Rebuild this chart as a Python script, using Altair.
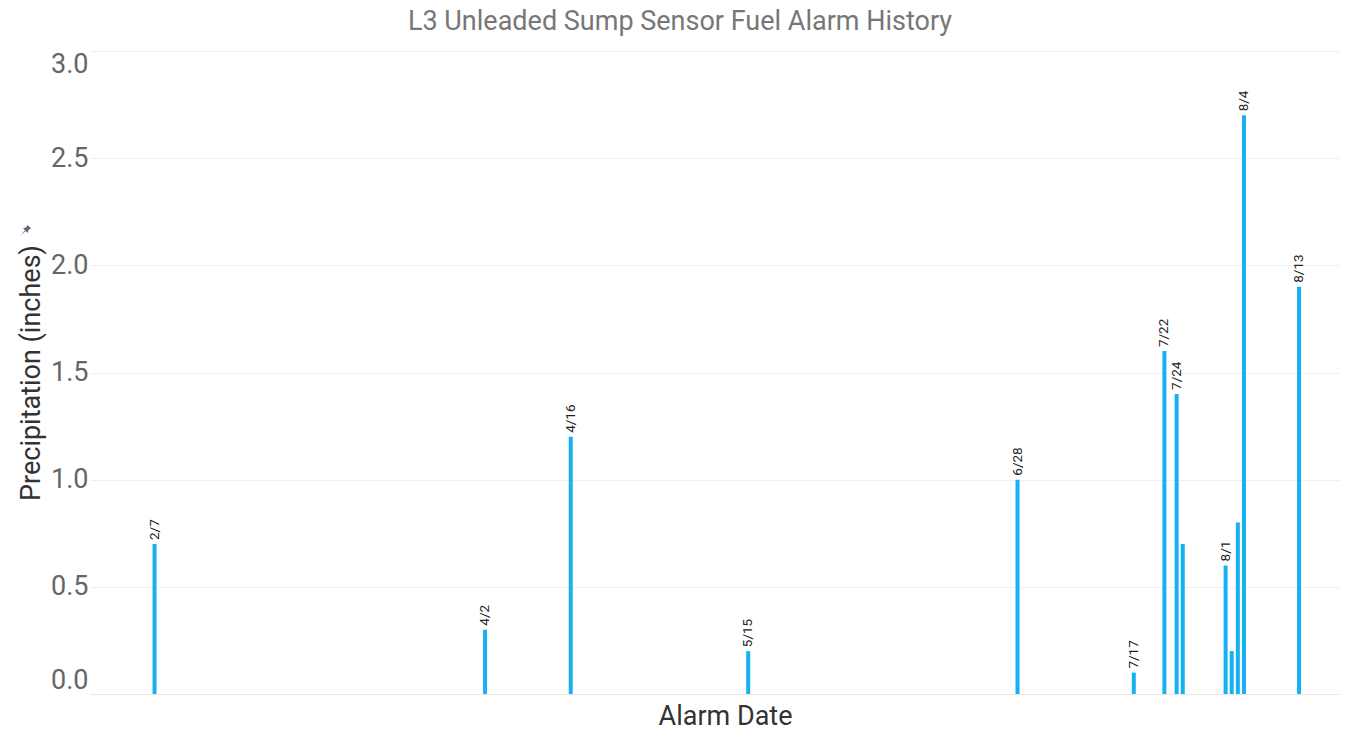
import altair as alt
import pandas as pd

dates = ["2019-02-07", "2019-04-02", "2019-04-16", "2019-05-15", "2019-06-28",
         "2019-07-17", "2019-07-22", "2019-07-24", "2019-07-25", "2019-08-01",
         "2019-08-02", "2019-08-03", "2019-08-04", "2019-08-13"]
values = [0.7, 0.3, 1.2, 0.2, 1.0, 0.1, 1.6, 1.4, 0.7, 0.6, 0.2, 0.8, 2.7, 1.9]
labels = ["2/7", "4/2", "4/16", "5/15", "6/28", "7/17", "7/22", "7/24", "",
          "8/1", "", "", "8/4", "8/13"]

df = pd.DataFrame({"date": dates, "value": values, "label": labels})

FONT = "Roboto"

x = alt.X("date:T", title="Alarm Date",
          scale=alt.Scale(domain=["2019-01-28T06:30:00", "2019-08-18T21:00:00"]),
          axis=alt.Axis(labels=False, ticks=False, grid=False, domain=True,
                        domainColor="#e6e6e6", domainWidth=1,
                        titleFont=FONT, titleFontSize=27, titleFontWeight="normal",
                        titleColor="#333333", titlePadding=9, titleX=635,
                        titleAlign="center"))
y = alt.Y("value:Q", title="Precipitation (inches)",
          scale=alt.Scale(domain=[0, 3]),
          axis=alt.Axis(values=[0, 0.5, 1, 1.5, 2, 2.5, 3], format=".1f",
                        labelFlush=True, domain=False, ticks=False,
                        gridColor="#f0f0f0", labelFont=FONT, labelFontSize=27,
                        labelColor="#666666", labelPadding=2,
                        titleFont=FONT, titleFontSize=27, titleFontWeight="normal",
                        titleColor="#333333", titlePadding=5))

bars = alt.Chart(df).mark_bar(size=4, color="#16b1f0").encode(x=x, y=y)

text = alt.Chart(df).mark_text(angle=270, align="left", baseline="middle",
                               dx=4, font=FONT, fontSize=13.5, color="#222222").encode(
    x="date:T", y="value:Q", text="label:N")

PIN_PATH = ("M -0.4 -1 L 0.4 -1 L 0.28 -0.55 L 0.55 -0.1 L -0.55 -0.1 "
            "L -0.28 -0.55 Z M -0.08 -0.1 L 0.08 -0.1 L 0 1 Z")
pin = alt.Chart(pd.DataFrame({"k": [1]})).mark_point(
    shape=PIN_PATH, filled=True, color="#5c6677", opacity=1, size=150,
    angle=45, clip=False
).encode(x=alt.value(-65), y=alt.value(180))

chart = (bars + text + pin).properties(
    width=1250, height=643,
    padding={"left": 82, "top": 43, "right": 0, "bottom": 36},
    autosize=alt.AutoSizeParams(type="none"),
    title=alt.TitleParams("L3 Unleaded Sump Sensor Fuel Alarm History",
                          font=FONT, fontSize=27, fontWeight="normal",
                          color="#777777", offset=14, dx=-35),
).configure_view(stroke=None)

chart.save("out.html", embed_options={"renderer": "svg", "actions": False})
